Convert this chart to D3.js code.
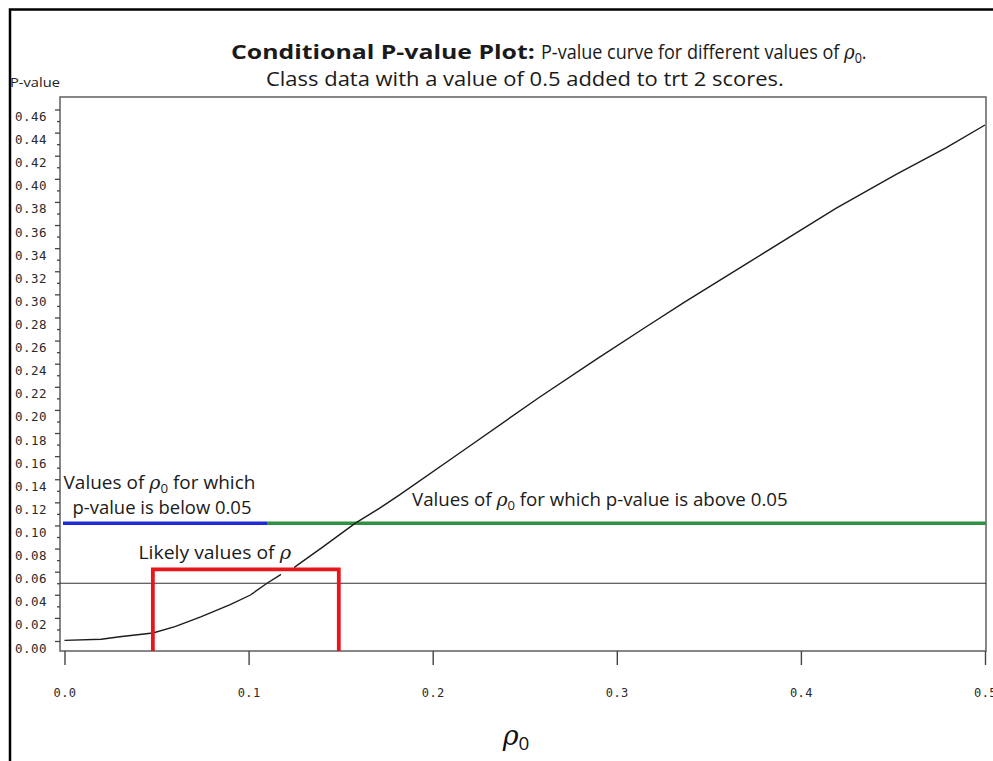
<!DOCTYPE html>
<html>
<head>
<meta charset="utf-8">
<script src="https://cdn.jsdelivr.net/npm/d3@7"></script>
<style>
  body { margin: 0; background: #fff; }
  svg { display: block; }
</style>
</head>
<body>
<svg id="chart" width="993" height="761"></svg>
<script>
// P-value curve over candidate rho0 values
const rhoValues = [0.000, 0.020, 0.030, 0.048, 0.060, 0.074, 0.090, 0.101, 0.110, 0.117,
                   0.125, 0.140, 0.158, 0.171, 0.182, 0.217, 0.258, 0.289, 0.316, 0.337,
                   0.371, 0.419, 0.452, 0.479, 0.500];
const pValues   = [0.0005, 0.0015, 0.0037, 0.0069, 0.0125, 0.0208, 0.0315, 0.0398, 0.0500, 0.0570,
                   0.0640, 0.0810, 0.1020, 0.1148, 0.1265, 0.1653, 0.2110, 0.2440, 0.2720, 0.2935,
                   0.3270, 0.3745, 0.4040, 0.4270, 0.4466];

// Axis ticks
const yMajorTicks = [0.00, 0.02, 0.04, 0.06, 0.08, 0.10, 0.12, 0.14, 0.16, 0.18, 0.20, 0.22,
                     0.24, 0.26, 0.28, 0.30, 0.32, 0.34, 0.36, 0.38, 0.40, 0.42, 0.44, 0.46];
const yMinorTicks = [0.01, 0.03, 0.05, 0.07, 0.09, 0.11, 0.13, 0.15, 0.17, 0.19, 0.21, 0.23,
                     0.25, 0.27, 0.29, 0.31, 0.33, 0.35, 0.37, 0.39, 0.41, 0.43, 0.45];
const xTicks = [0.0, 0.1, 0.2, 0.3, 0.4, 0.5];

// Reference levels and annotated ranges
const alphaLevel = 0.05;
const bandLevel = 0.102;          // height of the below/above band
const belowRange = [0.0, 0.110];  // rho0 where p-value < 0.05
const aboveRange = [0.110, 0.5];  // rho0 where p-value > 0.05
const likelyRange = [0.048, 0.149];
const likelyTop = 0.062;

const svg = d3.select("#chart");

// Outer page frame
svg.append("path")
  .attr("d", "M10,761 V9.5 H993")
  .attr("fill", "none").attr("stroke", "#000").attr("stroke-width", 2.5);

const box = { left: 60, top: 97, right: 986, bottom: 651 };

const x = d3.scaleLinear().domain([0, 0.5]).range([64.5, 985]);
const y = d3.scaleLinear().domain([0, 0.46]).range([641, 109.5]);

const tickFont = "'DejaVu Sans Mono', monospace";
const textFont = "'Open Sans', 'Noto Sans', sans-serif";

// Plot frame
svg.append("rect")
  .attr("x", box.left).attr("y", box.top)
  .attr("width", box.right - box.left).attr("height", box.bottom - box.top)
  .attr("fill", "none").attr("stroke", "#6a6a6a").attr("stroke-width", 1.6);

// Y axis: major ticks with labels, minor ticks between
const yAxisG = svg.append("g").attr("transform", `translate(${box.left},0)`)
  .call(d3.axisLeft(y).tickValues(yMajorTicks).tickSize(5).tickSizeOuter(0)
        .tickPadding(8).tickFormat(d3.format(".2f")));
yAxisG.select(".domain").remove();
yAxisG.selectAll(".tick line").attr("stroke", "#444").attr("stroke-width", 1.3);
yAxisG.selectAll(".tick text")
  .attr("dy", 11)
  .attr("font-family", tickFont).attr("font-size", 12.5)
  .attr("letter-spacing", 0.5).attr("fill", "#2a2a2a");

const yMinorG = svg.append("g").attr("transform", `translate(${box.left},0)`)
  .call(d3.axisLeft(y).tickValues(yMinorTicks).tickSize(3).tickSizeOuter(0).tickFormat(""));
yMinorG.select(".domain").remove();
yMinorG.selectAll(".tick line").attr("stroke", "#444").attr("stroke-width", 1.3);

// X axis
const xAxisG = svg.append("g").attr("transform", `translate(0,${box.bottom})`)
  .call(d3.axisBottom(x).tickValues(xTicks).tickSize(14).tickSizeOuter(0)
        .tickFormat(d3.format(".1f")));
xAxisG.select(".domain").remove();
xAxisG.selectAll(".tick line").attr("stroke", "#444").attr("stroke-width", 1.4);
xAxisG.selectAll(".tick text")
  .attr("y", 46).attr("dy", 0)
  .attr("font-family", tickFont).attr("font-size", 12)
  .attr("letter-spacing", 0.4).attr("fill", "#2a2a2a");

// Text with an italic rho and a subscript zero, squeezed horizontally to a set width
function richText(parent, parts, opts) {
  const t = parent.append("text")
    .attr("x", opts.x).attr("y", opts.y)
    .attr("font-family", textFont).attr("font-size", opts.size)
    .attr("font-weight", opts.weight || "normal")
    .attr("fill", opts.fill || "#1a1a1a");
  if (opts.anchor) t.attr("text-anchor", opts.anchor);
  let shifted = 0;
  parts.forEach(p => {
    const s = t.append("tspan").text(p.t);
    if (p.rho) s.attr("font-style", "italic").attr("font-family", "'DejaVu Serif', serif");
    const want = p.sub ? opts.size * 0.18 : 0;
    if (want !== shifted) { s.attr("dy", want - shifted); shifted = want; }
    if (p.sub) s.attr("font-size", opts.size * 0.7);
  });
  if (opts.width) {
    const w = t.node().getBBox().width;
    const k = opts.width / w;
    t.attr("transform", `translate(${opts.x},0) scale(${k},1) translate(${-opts.x},0)`);
  }
  return t;
}

// Y axis title
richText(svg, [{ t: "P-value" }], { x: 10, y: 87, size: 13, width: 50, fill: "#222" });

// Title
richText(svg, [{ t: "Conditional P-value Plot:" }],
  { x: 231, y: 59.5, size: 19.5, weight: "bold", width: 304 });
richText(svg, [{ t: "P-value curve for different values of " }, { t: "ρ", rho: true },
               { t: "0", sub: true }, { t: "." }],
  { x: 541, y: 59.5, size: 19.5, width: 326 });
richText(svg, [{ t: "Class data with a value of 0.5 added to trt 2 scores." }],
  { x: 266, y: 86, size: 19.5, width: 518 });

// Band showing where the p-value falls below / above the level
svg.append("line")
  .attr("x1", x(belowRange[0]) - 1.5).attr("x2", x(belowRange[1]))
  .attr("y1", y(bandLevel)).attr("y2", y(bandLevel))
  .attr("stroke", "#1f2bd8").attr("stroke-width", 3.5);
svg.append("line")
  .attr("x1", x(aboveRange[0])).attr("x2", box.right)
  .attr("y1", y(bandLevel)).attr("y2", y(bandLevel))
  .attr("stroke", "#2f9143").attr("stroke-width", 3.5);

// Significance level line
svg.append("line")
  .attr("x1", box.left).attr("x2", box.right)
  .attr("y1", y(alphaLevel)).attr("y2", y(alphaLevel))
  .attr("stroke", "#333").attr("stroke-width", 1.2);

// P-value curve
const line = d3.line().x((d, i) => x(rhoValues[i])).y(d => y(d));
svg.append("path")
  .datum(pValues)
  .attr("d", line)
  .attr("fill", "none").attr("stroke", "#1c1c1c").attr("stroke-width", 1.4);

// White patch keeping the bracket label's symbol clear of the curve
svg.append("rect")
  .attr("x", 281).attr("y", 554).attr("width", 13).attr("height", 23)
  .attr("fill", "#fff");

// Likely values bracket
svg.append("path")
  .attr("d", `M${x(likelyRange[0])},${box.bottom} V${y(likelyTop)} H${x(likelyRange[1])} V${box.bottom}`)
  .attr("fill", "none").attr("stroke", "#e8151b").attr("stroke-width", 3.8);

// Annotations
richText(svg, [{ t: "Values of " }, { t: "ρ", rho: true }, { t: "0", sub: true }, { t: " for which" }],
  { x: 63.5, y: 489.5, size: 18, width: 192 });
richText(svg, [{ t: "p-value is below 0.05" }],
  { x: 72.5, y: 514, size: 18, width: 179 });
richText(svg, [{ t: "Values of " }, { t: "ρ", rho: true }, { t: "0", sub: true },
               { t: " for which p-value is above 0.05" }],
  { x: 412, y: 506.5, size: 18, width: 376 });
richText(svg, [{ t: "Likely values of " }, { t: "ρ", rho: true }],
  { x: 138.5, y: 559.5, size: 18, width: 153 });

// X axis title
richText(svg, [{ t: "ρ", rho: true }, { t: "0", sub: true }],
  { x: 516, y: 745, size: 27, anchor: "middle", fill: "#111" });
</script>
</body>
</html>
